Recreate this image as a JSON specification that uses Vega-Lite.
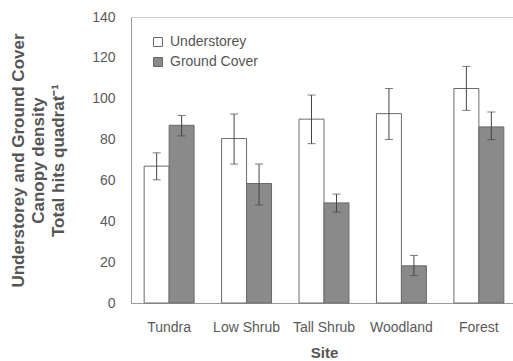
{
  "$schema": "https://vega.github.io/schema/vega-lite/v6.json",
  "width": 386,
  "height": 286,
  "padding": {"left": 9, "top": 10, "right": 0, "bottom": 0},
  "background": "white",
  "config": {
    "font": "Liberation Sans",
    "view": {"stroke": "#cfcfcf", "strokeWidth": 1},
    "axis": {"grid": false, "domainColor": "#9a9a9a", "ticks": false, "labelColor": "#5a5a5a", "titleColor": "#555555", "labelFont": "Liberation Sans", "titleFont": "Liberation Sans"}
  },
  "data": {
    "values": [
      {"site": "Tundra", "type": "Understorey", "value": 67, "lo": 60.3, "hi": 73.5},
      {"site": "Tundra", "type": "Ground Cover", "value": 87, "lo": 81.8, "hi": 91.8},
      {"site": "Low Shrub", "type": "Understorey", "value": 80.5, "lo": 68, "hi": 92.5},
      {"site": "Low Shrub", "type": "Ground Cover", "value": 58.5, "lo": 48, "hi": 68},
      {"site": "Tall Shrub", "type": "Understorey", "value": 90, "lo": 78, "hi": 101.8},
      {"site": "Tall Shrub", "type": "Ground Cover", "value": 49, "lo": 44.5, "hi": 53.3},
      {"site": "Woodland", "type": "Understorey", "value": 92.7, "lo": 80, "hi": 105},
      {"site": "Woodland", "type": "Ground Cover", "value": 18.2, "lo": 13.4, "hi": 23.3},
      {"site": "Forest", "type": "Understorey", "value": 105, "lo": 94.3, "hi": 115.8},
      {"site": "Forest", "type": "Ground Cover", "value": 86.2, "lo": 80, "hi": 93.5}
    ]
  },
  "encoding": {
    "x": {
      "field": "site", "type": "nominal",
      "sort": ["Tundra", "Low Shrub", "Tall Shrub", "Woodland", "Forest"],
      "scale": {"paddingInner": 0.355, "paddingOuter": 0.17},
      "axis": {"labelAngle": 0, "labelFontSize": 14, "labelPadding": 17, "title": "Site", "titleFontSize": 15, "titleFontWeight": "bold", "titlePadding": 11}
    },
    "xOffset": {"field": "type", "type": "nominal", "sort": ["Understorey", "Ground Cover"]}
  },
  "layer": [
    {
      "mark": {"type": "bar", "stroke": "#6a6a6a", "strokeWidth": 1},
      "encoding": {
        "y": {
          "field": "value", "type": "quantitative",
          "scale": {"domain": [0, 140]},
          "axis": {"values": [0, 20, 40, 60, 80, 100, 120, 140], "labelFontSize": 14, "labelPadding": 16,
            "title": ["Understorey and Ground Cover", "Canopy density", "Total hits quadrat⁻¹"],
            "titleFontSize": 17, "titleFontWeight": "bold", "titleLineHeight": 20, "titlePadding": 24}
        },
        "fill": {
          "field": "type", "type": "nominal",
          "scale": {"domain": ["Understorey", "Ground Cover"], "range": ["#ffffff", "#8a8a8a"]},
          "legend": {"title": null, "orient": "none", "legendX": 20, "legendY": 18, "symbolType": "square", "symbolSize": 80, "symbolStrokeColor": "#666666", "symbolStrokeWidth": 1, "labelFontSize": 14, "labelColor": "#555555", "rowPadding": 6, "labelOffset": 5}
        }
      }
    },
    {
      "mark": {"type": "rule", "color": "#444444", "strokeWidth": 1},
      "encoding": {
        "y": {"field": "lo", "type": "quantitative"},
        "y2": {"field": "hi"}
      }
    },
    {
      "mark": {"type": "tick", "color": "#444444", "thickness": 1, "size": 8},
      "encoding": {"y": {"field": "lo", "type": "quantitative"}}
    },
    {
      "mark": {"type": "tick", "color": "#444444", "thickness": 1, "size": 8},
      "encoding": {"y": {"field": "hi", "type": "quantitative"}}
    }
  ]
}
